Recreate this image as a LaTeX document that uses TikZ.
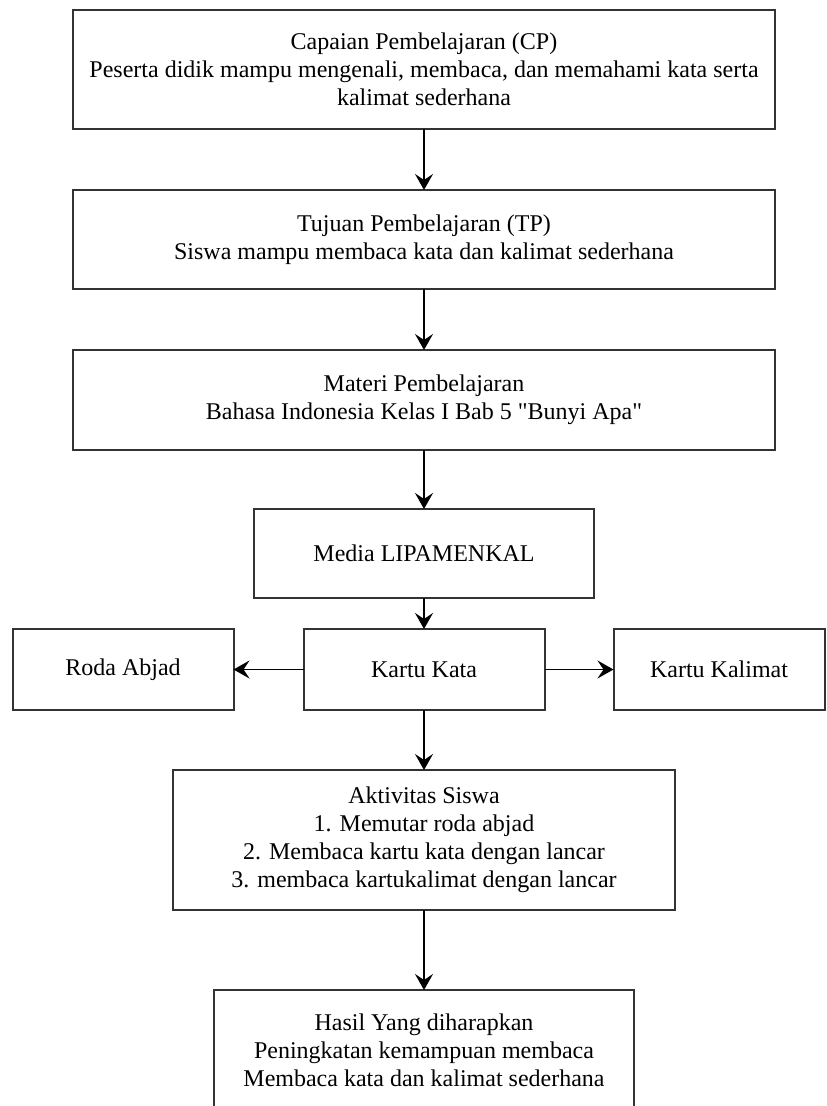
\documentclass[tikz,border=0pt]{standalone}
\usepackage{fontspec}
\setmainfont{Liberation Serif}
\usetikzlibrary{positioning, arrows.meta}

\begin{document}
\begin{tikzpicture}[node distance=30.5pt,
 every node/.style={font=\fontsize{12}{14}\selectfont},
 box/.style={draw=black!80, line width=1pt, align=center, outer sep=0pt, inner sep=0pt},
 arr/.style={-{Stealth[length=8pt,width=9pt,inset=3pt]}, line width=0.8pt}]
\useasboundingbox (0,0) rectangle (413pt,-553pt);
\node[box, minimum width=351pt, minimum height=59.5pt] (cp) at (212pt,-34.75pt)
 {Capaian Pembelajaran (CP)\\Peserta didik mampu mengenali, membaca, dan memahami kata serta\\kalimat sederhana};
\node[box, minimum width=351pt, minimum height=49.5pt, below=of cp] (tp)
 {Tujuan Pembelajaran (TP)\\Siswa mampu membaca kata dan kalimat sederhana};
\node[box, minimum width=351pt, minimum height=50pt, below=of tp] (materi)
 {Materi Pembelajaran\\Bahasa Indonesia Kelas I Bab 5 \textquotedbl Bunyi Apa\textquotedbl};
\node[box, minimum width=170pt, minimum height=44.5pt, below=29.5pt of materi] (media) {Media LIPAMENKAL};
\node[box, minimum width=120.5pt, minimum height=40.5pt, below=15.5pt of media] (kata) {Kartu Kata};
\node[box, minimum width=110.5pt, minimum height=40.5pt, left=35pt of kata] (roda) {Roda Abjad};
\node[box, minimum width=105.5pt, minimum height=40.5pt, right=34.5pt of kata] (kalimat) {Kartu Kalimat};
\node[box, minimum width=251pt, minimum height=70pt, below=30pt of kata] (aktivitas)
 {Aktivitas Siswa\\1. Memutar roda abjad\\2. Membaca kartu kata dengan lancar\\3. membaca kartukalimat dengan lancar};
\node[box, minimum width=210pt, minimum height=60pt, below=40pt of aktivitas] (hasil)
 {Hasil Yang diharapkan\\Peningkatan kemampuan membaca\\Membaca kata dan kalimat sederhana};
% connectors
\draw[arr] (cp) -- (tp);
\draw[arr] (tp) -- (materi);
\draw[arr] (materi) -- (media);
\draw[arr] (media) -- (kata);
\draw[arr] (kata) -- (roda);
\draw[arr] (kata) -- (kalimat);
\draw[arr] (kata) -- (aktivitas);
\draw[arr] (aktivitas) -- (hasil);
\end{tikzpicture}
\end{document}
